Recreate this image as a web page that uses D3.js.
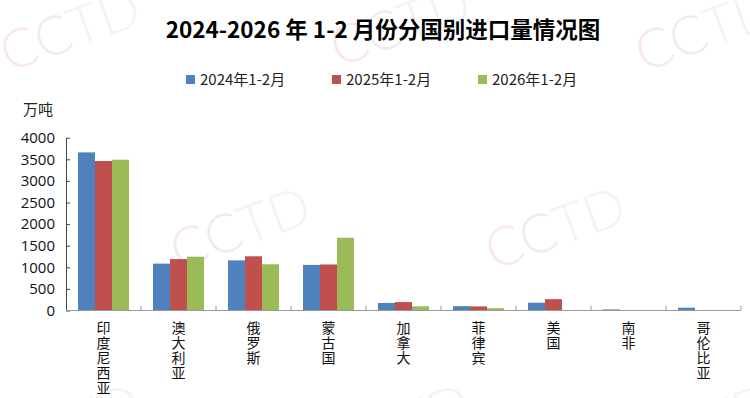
<!DOCTYPE html>
<html>
<head>
<meta charset="utf-8">
<script src="https://cdn.jsdelivr.net/npm/d3@7"></script>
<style>
  body { margin: 0; background: #fff; }
  svg { display: block; font-family: "Noto Sans CJK SC", "Open Sans", sans-serif; }
</style>
</head>
<body>
<div id="chart"></div>
<script>

// categories and series values (万吨)
var countries = ["印度尼西亚", "澳大利亚", "俄罗斯", "蒙古国", "加拿大", "菲律宾", "美国", "南非", "哥伦比亚"];
var seriesNames = ["2024年1-2月", "2025年1-2月", "2026年1-2月"];
var v2024 = [3660, 1085, 1160, 1055, 175, 100, 180, 25, 65];
var v2025 = [3460, 1190, 1255, 1065, 195, 95, 262, 0, 8];
var v2026 = [3490, 1245, 1070, 1685, 97, 55, 0, 12, 8];
var yTicks = [0, 500, 1000, 1500, 2000, 2500, 3000, 3500, 4000];

var colors = ["#4f81bd", "#c0504d", "#9bbb59"];

var W = 750, H = 398;
var plotL = 66, plotR = 741, plotT = 137.7, plotB = 310.5;

var svg = d3.select("#chart").append("svg")
  .attr("width", W).attr("height", H)
  .attr("viewBox", "0 0 " + W + " " + H);

// faint CCTD watermarks
var marks = [[70, 30], [400, 25], [705, 30], [240, 228], [555, 228], [70, 425], [400, 425], [705, 425]];
var wmCol = ["#f3c4c4", "#c8d5ea", "#e2e2e2", "#e2e2e2"];
marks.forEach(function (p) {
  var g = svg.append("g")
    .attr("transform", "translate(" + p[0] + "," + p[1] + ") rotate(-20)")
    .attr("opacity", 0.4);
  var t = g.append("text")
    .attr("text-anchor", "middle")
    .attr("dy", "0.35em")
    .style("font-family", "Lato, 'Open Sans', sans-serif")
    .style("font-size", "54px")
    .style("font-weight", 300);
  "CCTD".split("").forEach(function (ch, i) {
    t.append("tspan").attr("fill", wmCol[i]).text(ch);
  });
});

// title
svg.append("text")
  .attr("x", 383).attr("y", 38)
  .attr("text-anchor", "middle")
  .style("font-size", "22.5px")
  .style("font-weight", "bold")
  .attr("fill", "#000")
  .text("2024-2026 年 1-2 月份分国别进口量情况图");

// legend
var legendX = [186, 332, 478];
seriesNames.forEach(function (s, i) {
  svg.append("rect")
    .attr("x", legendX[i]).attr("y", 75)
    .attr("width", 9).attr("height", 9)
    .attr("fill", colors[i]);
  svg.append("text")
    .attr("x", legendX[i] + 14).attr("y", 80)
    .attr("dy", "0.35em")
    .style("font-size", "15px")
    .attr("fill", "#222")
    .text(s);
});

// unit label
svg.append("text")
  .attr("x", 23).attr("y", 110)
  .attr("dy", "0.35em")
  .style("font-size", "15px")
  .attr("fill", "#222")
  .text("万吨");

// scales
var x0 = d3.scaleBand()
  .domain(countries)
  .range([plotL, plotR])
  .paddingInner(0.32)
  .paddingOuter(0.16);

var x1 = d3.scaleBand()
  .domain(seriesNames)
  .range([0, x0.bandwidth()]);

var y = d3.scaleLinear()
  .domain([0, 4000])
  .range([plotB, plotT]);

var table = countries.map(function (c, i) {
  return { country: c, values: [v2024[i], v2025[i], v2026[i]] };
});

// bars
var groups = svg.append("g").selectAll("g")
  .data(table)
  .join("g")
  .attr("transform", function (d) { return "translate(" + x0(d.country) + ",0)"; });

groups.selectAll("rect")
  .data(function (d) { return d.values.map(function (v, i) { return { key: seriesNames[i], value: v, i: i }; }); })
  .join("rect")
  .attr("x", function (d) { return x1(d.key); })
  .attr("y", function (d) { return y(d.value); })
  .attr("width", x1.bandwidth())
  .attr("height", function (d) { return y(0) - y(d.value); })
  .attr("fill", function (d) { return colors[d.i]; });

// y axis (inside ticks)
var yAxis = svg.append("g")
  .attr("transform", "translate(" + plotL + ",0)")
  .call(d3.axisLeft(y).tickValues(yTicks).tickFormat(d3.format("d"))
    .tickSize(-4).tickPadding(11).tickSizeOuter(0));
yAxis.select(".domain").attr("stroke", "#444");
yAxis.selectAll(".tick line").attr("stroke", "#444");
yAxis.selectAll("text")
  .style("font-family", "'Open Sans', 'Noto Sans', sans-serif")
  .style("font-size", "15px")
  .attr("fill", "#111");

// x axis line and category boundary ticks
svg.append("line")
  .attr("x1", plotL).attr("x2", plotR)
  .attr("y1", y(0)).attr("y2", y(0))
  .attr("stroke", "#999").attr("stroke-width", 1.2);

var bounds = countries.map(function (c) { return x0(c) - x0.step() * x0.paddingOuter(); });
bounds.push(plotR);
svg.append("g").selectAll("line")
  .data(bounds.slice(1))
  .join("line")
  .attr("x1", function (d) { return d; }).attr("x2", function (d) { return d; })
  .attr("y1", y(0) - 5).attr("y2", y(0))
  .attr("stroke", "#999");

// vertical category labels
var labels = svg.append("g").selectAll("text")
  .data(countries)
  .join("text")
  .attr("text-anchor", "middle")
  .style("font-size", "14px")
  .attr("fill", "#111");

labels.each(function (c) {
  var cx = x0(c) + x0.bandwidth() / 2;
  var t = d3.select(this);
  c.split("").forEach(function (ch, i) {
    t.append("tspan")
      .attr("x", cx)
      .attr("y", 333 + i * 15)
      .text(ch);
  });
});

</script>
</body>
</html>
